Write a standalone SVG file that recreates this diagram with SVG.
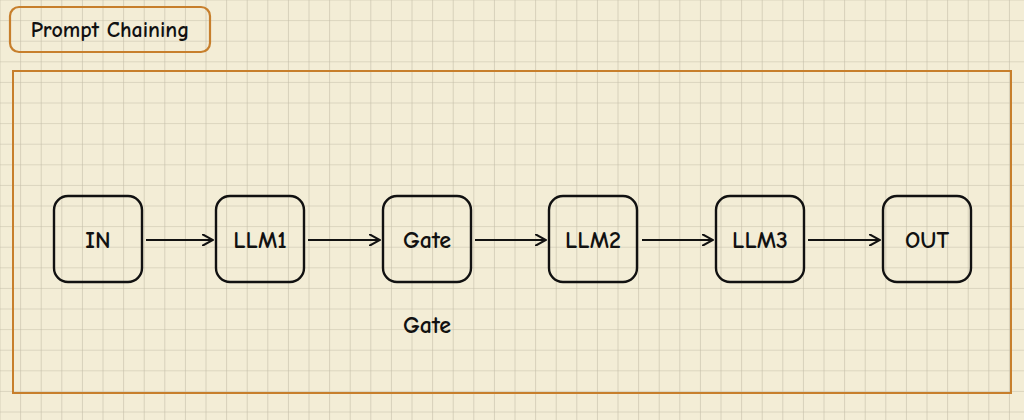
<svg xmlns="http://www.w3.org/2000/svg" width="1024" height="420" viewBox="0 0 1024 420">
<defs>
<pattern id="grid" width="20.6" height="20.6" patternUnits="userSpaceOnUse" x="0.5" y="0.5">
<path d="M20.6 0V20.6M0 20.6H20.6" fill="none" stroke="#c4bea8" stroke-width="1.2"/>
</pattern>
<marker id="ar" viewBox="0 0 12 12" refX="11" refY="6" markerWidth="12" markerHeight="12" markerUnits="userSpaceOnUse" orient="auto">
<path d="M0 0L11 6L0 12" fill="none" stroke="#111" stroke-width="2"/>
</marker>
<style>
.n rect{fill:none;stroke:#111;stroke-width:2.4}
.n text,.t{font-family:"Comic Neue","DejaVu Sans",sans-serif;font-size:24px;font-weight:bold;fill:#111;text-anchor:middle;dominant-baseline:central}
.c line{stroke:#111;stroke-width:2.2;marker-end:url(#ar)}
</style>
</defs>
<rect width="1024" height="420" fill="#f3edd6"/>
<rect width="1024" height="420" fill="url(#grid)"/>
<g id="title">
<rect x="10" y="7" width="200" height="45" rx="9" fill="none" stroke="#c77f2c" stroke-width="2.2"/>
<text x="110" y="30" style="font-family:'Comic Neue','DejaVu Sans',sans-serif;font-size:22px;font-weight:bold;fill:#111;text-anchor:middle;dominant-baseline:central">Prompt Chaining</text>
</g>
<rect id="frame" x="13" y="71" width="998" height="322" fill="none" stroke="#c77f2c" stroke-width="2"/>
<g class="c">
<line x1="146" y1="240" x2="213" y2="240"/>
<line x1="308" y1="240" x2="380" y2="240"/>
<line x1="475" y1="240" x2="546" y2="240"/>
<line x1="642" y1="240" x2="713" y2="240"/>
<line x1="808" y1="240" x2="880" y2="240"/>
</g>
<g id="in" class="n"><rect x="54" y="196" width="88" height="86" rx="14"/><text x="98" y="240">IN</text></g>
<g id="llm1" class="n"><rect x="216" y="196" width="88" height="86" rx="14"/><text x="260" y="240">LLM1</text></g>
<g id="gate" class="n"><rect x="383" y="196" width="88" height="86" rx="14"/><text x="427" y="240">Gate</text></g>
<g id="llm2" class="n"><rect x="549" y="196" width="88" height="86" rx="14"/><text x="593" y="240">LLM2</text></g>
<g id="llm3" class="n"><rect x="716" y="196" width="88" height="86" rx="14"/><text x="760" y="240">LLM3</text></g>
<g id="out" class="n"><rect x="883" y="196" width="88" height="86" rx="14"/><text x="927" y="240">OUT</text></g>
<text class="t" x="427" y="325">Gate</text>
</svg>
